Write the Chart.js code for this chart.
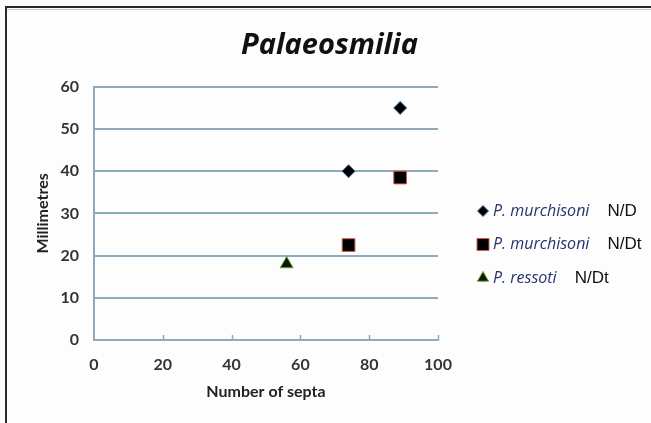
<!DOCTYPE html>
<html lang="en">
<head>
  <meta charset="UTF-8">
  <title>Palaeosmilia</title>
  <script src="https://cdn.jsdelivr.net/npm/chart.js@4.4.0/dist/chart.umd.min.js"></script>
  <style>
    html, body { margin: 0; padding: 0; background: #fff; }
    #wrap { position: absolute; left: 0; top: 0; width: 651px; height: 423px; }
  </style>
</head>
<body>
  <div id="wrap"><canvas id="chart"></canvas></div>

  <script>
    // values
    const murchisoniNDx = [74, 89];
    const murchisoniNDy = [40, 55];
    const murchisoniNDtx = [74, 89];
    const murchisoniNDty = [22.5, 38.5];
    const ressotiNDtx = [56];
    const ressotiNDty = [18];

    const seriesNames = ['P. murchisoni', 'P. murchisoni', 'P. ressoti'];
    const seriesSuffix = ['N/D', 'N/Dt', 'N/Dt'];

    const xTicks = [0, 20, 40, 60, 80, 100];
    const yTicks = [0, 10, 20, 30, 40, 50, 60];

    const gridColor = '#8eaabd';

    function toPoints(xs, ys) {
      return xs.map((x, i) => ({ x: x, y: ys[i] }));
    }

    // frame, little upward ticks on x axis and the legend on the right
    const decor = {
      id: 'decor',
      beforeDraw(chart) {
        const ctx = chart.ctx;
        ctx.save();
        ctx.fillStyle = '#fdfdfe';
        ctx.fillRect(0, 0, chart.width, chart.height);
        ctx.strokeStyle = '#2a2a2a';
        ctx.lineWidth = 2;
        ctx.beginPath();
        ctx.moveTo(5, 7); ctx.lineTo(chart.width, 7);
        ctx.moveTo(6, 6); ctx.lineTo(6, chart.height);
        ctx.stroke();
        ctx.strokeStyle = '#b9cddb';
        ctx.lineWidth = 1;
        ctx.beginPath();
        ctx.moveTo(7, 9.5); ctx.lineTo(chart.width, 9.5);
        ctx.stroke();
        ctx.restore();
      },
      afterDraw(chart) {
        const ctx = chart.ctx;
        const xs = chart.scales.x;
        const bottom = chart.chartArea.bottom;
        ctx.save();
        ctx.strokeStyle = gridColor;
        ctx.lineWidth = 1.5;
        ctx.beginPath();
        xTicks.slice(1).forEach(v => {
          const px = Math.round(xs.getPixelForValue(v)) + 0.5;
          ctx.moveTo(px, bottom);
          ctx.lineTo(px, bottom - 5);
        });
        ctx.stroke();

        // legend
        const lx = 483, ly = 211, step = 33.5;
        chart.data.datasets.forEach((ds, i) => {
          const y = ly + i * step;
          ctx.fillStyle = ds.backgroundColor;
          ctx.strokeStyle = ds.borderColor;
          ctx.lineWidth = 1;
          Chart.helpers.drawPoint(ctx, {
            pointStyle: ds.pointStyle,
            radius: ds.legendRadius,
            borderWidth: 1
          }, lx, y);
          ctx.textBaseline = 'middle';
          ctx.textAlign = 'left';
          ctx.font = 'italic 16px "Open Sans"';
          ctx.fillStyle = '#22346a';
          ctx.fillText(seriesNames[i], lx + 10, y);
          const w = ctx.measureText(seriesNames[i]).width;
          ctx.font = '17px "Liberation Sans"';
          ctx.fillStyle = '#111';
          ctx.fillText(seriesSuffix[i], lx + 10 + w + 18, y);
        });
        ctx.restore();
      }
    };

    new Chart(document.getElementById('chart'), {
      type: 'scatter',
      data: {
        datasets: [
          {
            label: seriesNames[0] + ' ' + seriesSuffix[0],
            data: toPoints(murchisoniNDx, murchisoniNDy),
            pointStyle: 'rectRot',
            pointRadius: 6.5,
            legendRadius: 5.5,
            backgroundColor: '#000',
            borderColor: '#3a6ea5',
            borderWidth: 1
          },
          {
            label: seriesNames[1] + ' ' + seriesSuffix[1],
            data: toPoints(murchisoniNDtx, murchisoniNDty),
            pointStyle: 'rect',
            pointRadius: 9,
            legendRadius: 8.5,
            backgroundColor: '#000',
            borderColor: '#d0604d',
            borderWidth: 1
          },
          {
            label: seriesNames[2] + ' ' + seriesSuffix[2],
            data: toPoints(ressotiNDtx, ressotiNDty),
            pointStyle: 'triangle',
            pointRadius: 7.5,
            legendRadius: 6.5,
            backgroundColor: '#0b1a05',
            borderColor: '#7aa24a',
            borderWidth: 1
          }
        ]
      },
      options: {
        responsive: true,
        maintainAspectRatio: false,
        animation: false,
        layout: { padding: { left: 8, right: 0, top: 8, bottom: 0 } },
        plugins: {
          legend: { display: false },
          tooltip: { enabled: false },
          title: {
            display: true,
            text: 'Palaeosmilia',
            color: '#111',
            font: { family: 'Open Sans', size: 29, weight: 'bold', style: 'italic', lineHeight: 1.2 },
            padding: { top: 20, bottom: 24 }
          }
        },
        scales: {
          x: {
            type: 'linear',
            min: 0,
            max: 100,
            afterBuildTicks: s => { s.ticks = xTicks.map(v => ({ value: v })); },
            afterFit: s => { s.height = 83; },
            grid: { display: false, drawTicks: false },
            border: { display: true, color: gridColor, width: 2 },
            ticks: {
              padding: 15.5,
              color: '#333',
              font: { family: 'Lato', size: 16, weight: 'bold' }
            },
            title: {
              display: true,
              text: 'Number of septa',
              color: '#222',
              font: { family: 'Lato', size: 16, weight: 'bold' },
              padding: { top: 4, bottom: 21.4 }
            }
          },
          y: {
            type: 'linear',
            min: 0,
            max: 60,
            afterBuildTicks: s => { s.ticks = yTicks.map(v => ({ value: v })); },
            afterFit: s => { s.width = 86; },
            grid: { color: gridColor, lineWidth: 2, drawTicks: false },
            border: { display: true, color: gridColor, width: 2 },
            ticks: {
              padding: 15,
              color: '#333',
              font: { family: 'Lato', size: 16, weight: 'bold' }
            },
            title: {
              display: true,
              text: 'Millimetres',
              color: '#222',
              font: { family: 'Lato', size: 16, weight: 'bold' },
              padding: { top: 25.4, bottom: 0 }
            }
          },
          // empty box on the right that keeps room for the legend
          side: {
            type: 'linear',
            position: 'right',
            display: true,
            afterFit: s => { s.width = 213; },
            grid: { display: false, drawTicks: false },
            border: { display: false },
            ticks: { display: false }
          }
        }
      },
      plugins: [decor]
    });
  </script>
</body>
</html>
